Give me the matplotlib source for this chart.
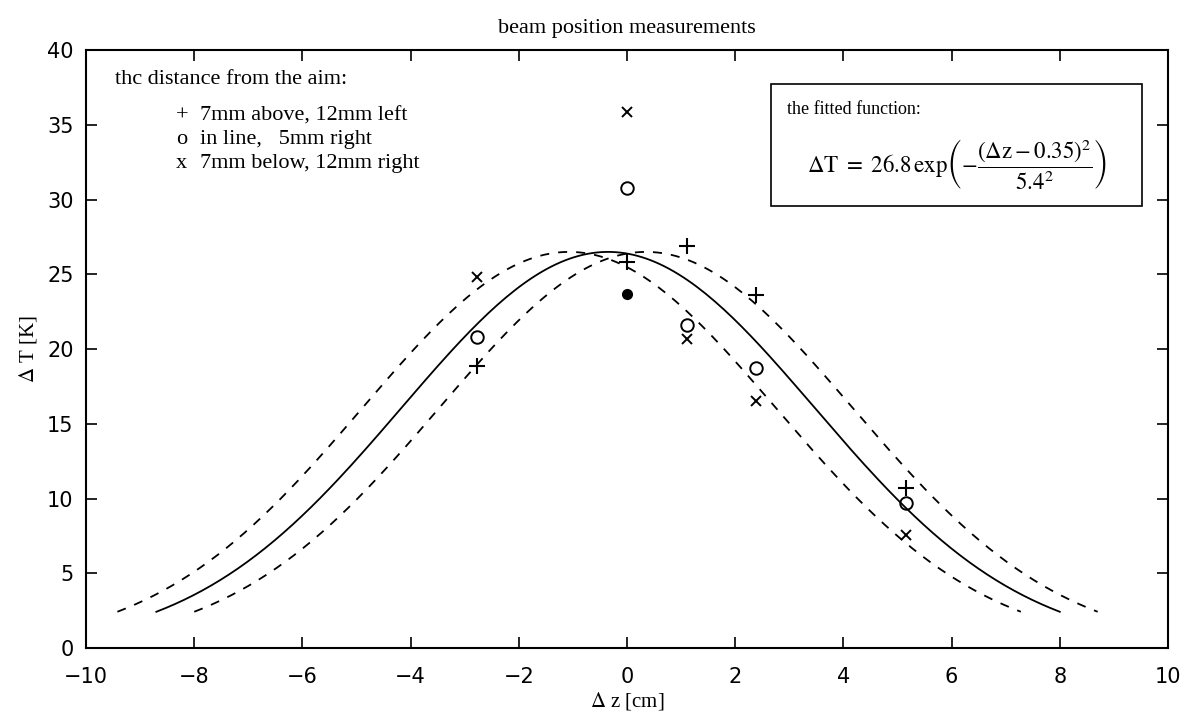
import numpy as np
import matplotlib.pyplot as plt

plt.rcParams['mathtext.fontset'] = 'stix'

# measured positions [cm]
z_meas = [-2.78, 0.0, 1.1, 2.38, 5.16]
# 7mm above, 12mm left (+)
t_plus = [18.9, 25.8, 26.9, 23.6, 10.7]
# in line, 5mm right (o)
t_circ = [20.8, 30.8, 21.6, 18.7, 9.7]
# 7mm below, 12mm right (x)
t_cross = [24.8, 35.85, 20.7, 16.5, 7.55]
# filled point at the aim
z_dot = [0.0]
t_dot = [23.7]

# fitted gaussians: amplitude, centre, width, half range drawn
amp = 26.5
sigma = 5.4
half_range = 8.35
centre_fit = -0.35
centre_left = -1.07
centre_right = 0.35


def gauss(c):
    z = np.linspace(c - half_range, c + half_range, 200)
    return z, amp * np.exp(-(z - c) ** 2 / sigma ** 2)


fig = plt.figure(figsize=(11.9, 7.26), dpi=100)
ax = fig.add_axes([0.0723, 0.1074, 0.9092, 0.8236])

z, t = gauss(centre_fit)
ax.plot(z, t, color='black', lw=1.3)
for c in (centre_left, centre_right):
    z, t = gauss(c)
    ax.plot(z, t, color='black', lw=1.3, dashes=(5, 5))

ax.plot(z_meas, t_plus, '+', color='black', ms=11, mew=1.5)
ax.plot(z_meas, t_circ, 'o', mfc='none', color='black', ms=9, mew=1.4)
ax.plot(z_meas, t_cross, 'x', color='black', ms=7, mew=1.4)
ax.plot(z_dot, t_dot, 'o', color='black', ms=7)

ax.set_xlim(-10, 10)
ax.set_ylim(0, 40)
ax.set_xticks(range(-10, 11, 2))
ax.set_yticks(range(0, 41, 5))
ax.tick_params(direction='in', top=True, right=True, length=8, width=1.2,
               labelsize=15)
ax.tick_params(axis='x', pad=14)
ax.tick_params(axis='y', pad=9)
for s in ax.spines.values():
    s.set_linewidth(1.5)

serif = 'Liberation Serif'
ax.set_xlabel(r'$\Delta$ z [cm]', fontsize=15, family=serif, labelpad=2)
ax.set_ylabel(r'$\Delta$ T [K]', fontsize=15, family=serif, labelpad=6)
ax.set_title('beam position measurements', fontsize=16, family=serif, pad=12)

ax.text(0.027, 0.967, 'thc distance from the aim:', transform=ax.transAxes,
        fontsize=16, family=serif, va='top')
leg_rows = [('+', '7mm above, 12mm left'),
            ('o', 'in line,   5mm right'),
            ('x', '7mm below, 12mm right')]
for i, (sym, lab) in enumerate(leg_rows):
    y = 0.89 - i * 0.04
    ax.text(0.083, y, sym, transform=ax.transAxes, fontsize=16, family=serif,
            va='center')
    ax.text(0.105, y, lab, transform=ax.transAxes, fontsize=16, family=serif,
            va='center')

box = plt.Rectangle((0.633, 0.74), 0.343, 0.204, transform=ax.transAxes,
                    fill=False, lw=1.2, color='black')
ax.add_patch(box)
ax.text(0.648, 0.915, 'the fitted function:', transform=ax.transAxes,
        fontsize=13, family=serif, va='top')
ax.text(0.805, 0.808,
        r'$\Delta\mathrm{T}\ =\ 26.8\,\mathrm{exp}\left(-\dfrac{(\Delta\mathrm{z}-0.35)^2}{5.4^2}\right)$',
        transform=ax.transAxes, fontsize=16.5, ha='center', va='center')

fig.savefig('out.png', dpi=100)
